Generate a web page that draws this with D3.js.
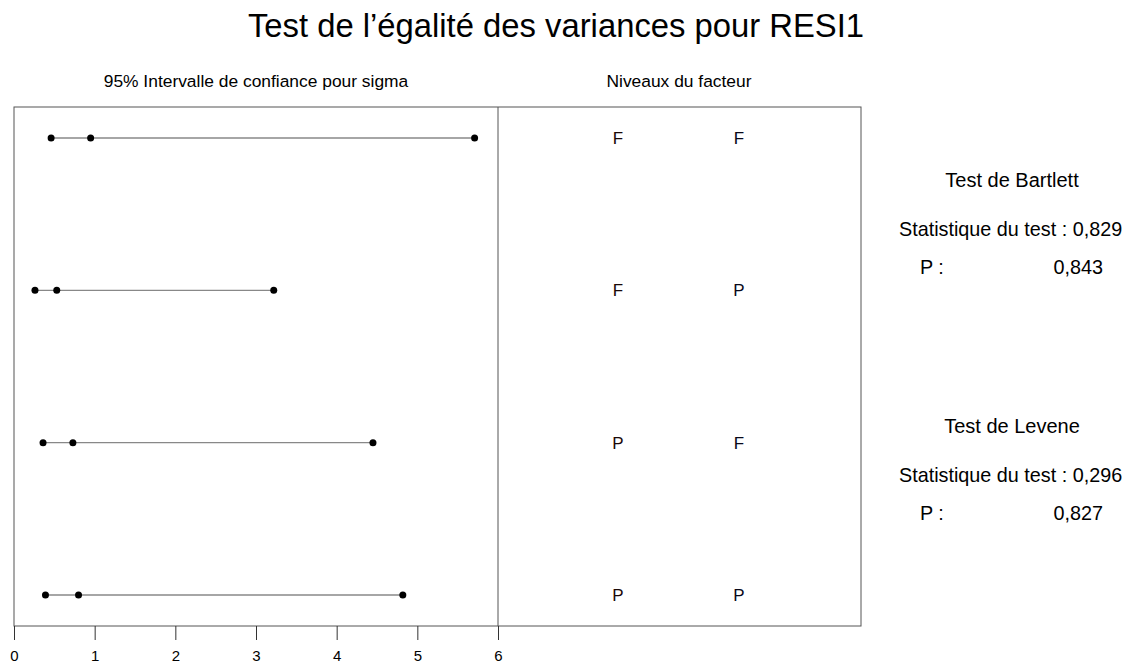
<!DOCTYPE html>
<html><head><meta charset="utf-8">
<script src="https://cdn.jsdelivr.net/npm/d3@7"></script>
<style>body{margin:0;background:#fff;} text{font-family:"Liberation Sans",Arial,sans-serif;}</style>
</head><body>
<svg id="c" width="1131" height="666"></svg>
<script>
const rows = ["1","2","3","4"];
const lower = [0.46, 0.26, 0.36, 0.39];
const sigma = [0.95, 0.53, 0.73, 0.80];
const upper = [5.71, 3.22, 4.45, 4.82];
const factor1 = ["F","F","P","P"];
const factor2 = ["F","P","F","P"];
const xTicks = [0,1,2,3,4,5,6];
const tests = [
  {name:"Test de Bartlett", stat:"0,829", p:"0,843"},
  {name:"Test de Levene", stat:"0,296", p:"0,827"}
];

const svg = d3.select("#c");
const x = d3.scaleLinear().domain([0,6]).range([14,498]);
const y = d3.scalePoint().domain(rows).range([138,595]);
const boxTop = 107, boxBottom = 626, boxRight = 861;

svg.append("text").attr("x",556).attr("y",37).attr("text-anchor","middle")
  .attr("font-size",32.8).text("Test de l\u2019égalité des variances pour RESI1");
svg.append("text").attr("x",256).attr("y",87).attr("text-anchor","middle")
  .attr("font-size",17.4).text("95% Intervalle de confiance pour sigma");
svg.append("text").attr("x",679).attr("y",87).attr("text-anchor","middle")
  .attr("font-size",17.4).text("Niveaux du facteur");

svg.append("rect").attr("x",x(0)).attr("y",boxTop).attr("width",boxRight-x(0)).attr("height",boxBottom-boxTop)
  .attr("fill","none").attr("stroke","#555").attr("stroke-width",1);
svg.append("line").attr("x1",x(6)).attr("x2",x(6)).attr("y1",boxTop).attr("y2",boxBottom)
  .attr("stroke","#555");

const ax = svg.append("g").attr("transform",`translate(0,${boxBottom})`)
  .call(d3.axisBottom(x).tickValues(xTicks).tickSize(14).tickPadding(10).tickFormat(d3.format("d")));
ax.select(".domain").remove();
ax.selectAll("line").attr("stroke","#333");
ax.selectAll("text").attr("font-size",15).attr("font-family","'Liberation Sans',Arial,sans-serif").attr("fill","#000");

const g = svg.append("g");
rows.forEach((r,i)=>{
  g.append("line").attr("x1",x(lower[i])).attr("x2",x(upper[i])).attr("y1",y(r)).attr("y2",y(r))
    .attr("stroke","#888").attr("stroke-width",1.3);
  [lower[i],sigma[i],upper[i]].forEach(v=>{
    g.append("circle").attr("cx",x(v)).attr("cy",y(r)).attr("r",3.5).attr("fill","#000");
  });
  g.append("text").attr("x",618).attr("y",y(r)+6).attr("text-anchor","middle").attr("font-size",17)
    .attr("fill","#1a0808").text(factor1[i]);
  g.append("text").attr("x",739).attr("y",y(r)+6).attr("text-anchor","middle").attr("font-size",17)
    .attr("fill","#08081a").text(factor2[i]);
});

const tY = [180, 426];
tests.forEach((t,i)=>{
  const b = tY[i];
  svg.append("text").attr("x",1012).attr("y",b+7).attr("text-anchor","middle").attr("font-size",20).text(t.name);
  svg.append("text").attr("x",899).attr("y",b+56).attr("font-size",19.8).text("Statistique du test : "+t.stat);
  svg.append("text").attr("x",920).attr("y",b+94).attr("font-size",19.8).text("P :");
  svg.append("text").attr("x",1103).attr("y",b+94).attr("text-anchor","end").attr("font-size",19.8).text(t.p);
});
</script>
</body></html>
